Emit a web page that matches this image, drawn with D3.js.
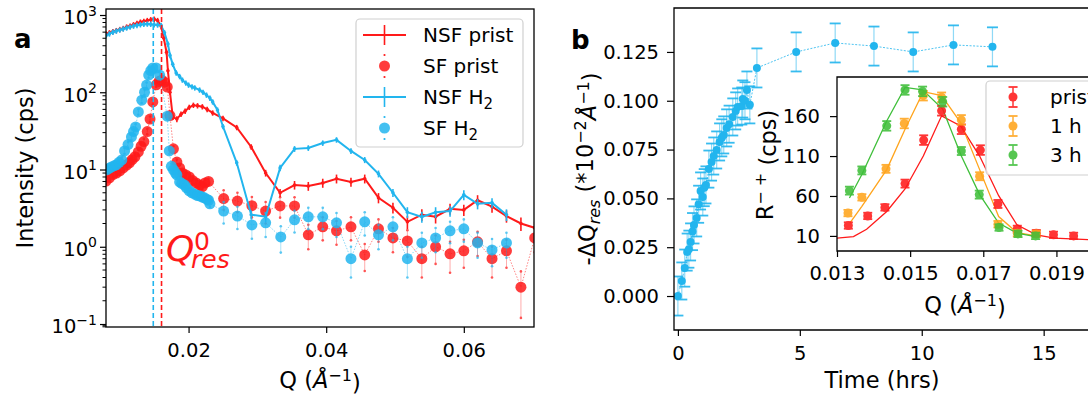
<!DOCTYPE html>
<html>
<head>
<meta charset="utf-8">
<script src="https://cdn.jsdelivr.net/npm/d3@7/dist/d3.min.js"></script>
<style>
body { margin: 0; background: #fff; }
text { font-family: "DejaVu Sans", sans-serif; }
</style>
</head>
<body>
<svg id="chart"></svg>
<script>
var width = 1088, height = 400;
var red = "#ff1a1a", blue = "#22b5ee", orange = "#ffa41c", green = "#3fbf3a";

// ---- panel a : intensity vs Q (log) ----
var nsfPristQ = [0.0080,0.0085,0.0090,0.0095,0.0100,0.0105,0.0110,0.0115,0.0120,0.0125,0.0130,0.0135,0.0140,0.0145,0.0150,0.0155,0.0160,0.0164,0.0168,0.0170,0.0173,0.0177,0.0183,0.0189,0.0195,0.0201,0.0207,0.0213,0.0220,0.0227,0.0235,0.0250,0.0270,0.0291,0.0312,0.0333,0.0354,0.0374,0.0395,0.0415,0.0436,0.0456,0.0476,0.0497,0.0518,0.0539,0.0559,0.0580,0.0600,0.0620,0.0641,0.0662,0.0683,0.0703];
var nsfPristI = [570,590,610,630,650,670,700,720,750,780,810,830,850,870,885,850,720,500,330,190,100,48,45,52,57,64,68,67,65,60,54,46,35,19.6,9.0,5.0,6.3,6.1,6.7,7.6,6.9,7.6,4.3,3.2,2.1,2.6,2.45,3.1,3.0,4.0,3.3,2.5,2.0,1.76];
var nsfPristErr = [45,47,49,50,52,54,56,58,60,62,65,66,68,70,71,68,58,40,26,15,8,4,4,4.2,4.6,5,5.4,5.4,5.2,4.8,4.3,3.7,2.8,1.6,0.9,0.6,0.8,0.8,0.9,1.0,0.9,1.0,0.65,0.5,0.4,0.45,0.45,0.5,0.5,0.65,0.55,0.45,0.4,0.35];

var sfPristQ = [0.0080,0.0085,0.0090,0.0095,0.0100,0.0105,0.0110,0.0114,0.0118,0.0122,0.0127,0.0131,0.0135,0.0140,0.0144,0.0148,0.0153,0.0157,0.0161,0.0165,0.0169,0.0173,0.0178,0.0183,0.0187,0.0191,0.0196,0.0201,0.0206,0.0211,0.0216,0.0220,0.0224,0.0229,0.0251,0.0271,0.0292,0.0312,0.0333,0.0354,0.0374,0.0395,0.0415,0.0436,0.0456,0.0476,0.0497,0.0518,0.0539,0.0559,0.0580,0.0600,0.0620,0.0641,0.0662,0.0683,0.0703];
var sfPristI = [7.1,7.8,8.6,9.0,9.6,10.5,11.4,12.2,13.4,14.6,16.9,20,23,31,45,75,125,138,144,135,117,50,18.5,12.5,10.5,9.0,8.5,8.0,7.2,6.7,6.3,6.0,6.7,7.0,4.2,3.9,3.4,2.9,3.38,3.38,1.43,1.81,1.61,1.81,0.785,1.71,1.30,1.19,0.70,1.0,0.81,0.885,1.16,0.70,0.885,0.30,1.30];
var sfPristErr = [0.6,0.6,0.7,0.7,0.8,0.8,0.9,1.0,1.1,1.2,1.4,1.6,1.9,2.5,3.5,5,8,9,9,9,8,4,1.5,1.0,0.9,0.8,0.7,0.7,0.6,0.6,0.55,0.5,0.55,0.6,1.2,1.1,1.0,0.9,1.0,1.0,0.5,0.6,0.55,0.6,0.3,0.55,0.45,0.45,0.3,0.4,0.35,0.35,0.4,0.3,0.35,0.18,0.45];

var nsfH2Q = [0.0080,0.0085,0.0090,0.0095,0.0100,0.0105,0.0110,0.0115,0.0120,0.0125,0.0130,0.0135,0.0140,0.0145,0.0150,0.0155,0.0160,0.0165,0.0170,0.0173,0.0177,0.0182,0.0187,0.0191,0.0196,0.0200,0.0205,0.0209,0.0216,0.0221,0.0226,0.0231,0.0235,0.0242,0.0250,0.0270,0.0291,0.0312,0.0333,0.0354,0.0374,0.0395,0.0415,0.0436,0.0456,0.0476,0.0497,0.0518,0.0539,0.0559,0.0580,0.0600,0.0620,0.0641,0.0662];
var nsfH2I = [540,570,600,620,640,660,680,700,720,735,750,760,765,760,750,745,735,590,420,300,230,178,160,144,132,124,118,114,107,100,92,84,75,59,36,12.2,2.6,2.45,10.5,18.5,19,22,24.2,17.4,13.3,8.8,5.0,2.8,2.44,2.8,2.9,4.7,3.6,3.7,2.6];
var nsfH2Err = [43,46,48,50,51,53,54,56,58,59,60,61,61,61,60,60,59,47,34,24,18,14,13,11.5,10.5,10,9.4,9.1,8.6,8,7.4,6.7,6,4.7,2.9,1.0,0.35,0.35,1.0,1.6,1.6,1.8,2.0,1.5,1.2,0.9,0.6,0.45,0.4,0.45,0.45,0.7,0.55,0.55,0.45];

var sfH2Q = [0.0081,0.0085,0.0088,0.0092,0.0095,0.0099,0.0103,0.0107,0.0112,0.0117,0.0120,0.0123,0.0127,0.0132,0.0136,0.0139,0.0142,0.0145,0.0148,0.0153,0.0158,0.0169,0.0172,0.0175,0.0178,0.0181,0.0183,0.0187,0.0190,0.0194,0.0197,0.0201,0.0205,0.0209,0.0213,0.0216,0.0220,0.0223,0.0227,0.0229,0.0231,0.0251,0.0271,0.0292,0.0312,0.0334,0.0354,0.0374,0.0395,0.0415,0.0436,0.0456,0.0476,0.0497,0.0518,0.0539,0.0559,0.0580,0.0600,0.0620,0.0641,0.0662];
var sfH2I = [9.9,10.4,10.8,11.2,11.5,12.4,13.3,17.4,21,26.4,31,35.6,55.6,79,100,124,167,190,206,206,167,49,17.4,11,9.9,9.0,8.5,6.9,6.6,6.3,5.8,5.3,5.0,4.8,4.6,4.55,4.4,4.3,4.1,4.0,3.6,2.9,2.5,1.92,2.04,1.34,2.23,2.44,2.44,2.04,0.70,2.1,1.43,1.81,0.70,1.12,1.30,1.61,1.71,1.12,0.91,1.12];
var sfH2Err = [0.8,0.8,0.9,0.9,0.9,1.0,1.1,1.4,1.7,2.1,2.5,2.9,4.5,6.3,8,10,13,15,16,16,13,4,1.4,0.9,0.8,0.7,0.7,0.6,0.55,0.5,0.5,0.45,0.4,0.4,0.4,0.4,0.4,0.35,0.35,0.35,0.32,0.9,0.8,0.65,0.7,0.5,0.7,0.75,0.75,0.7,0.3,0.7,0.5,0.6,0.3,0.4,0.45,0.5,0.55,0.4,0.35,0.4];

var qResH2 = 0.01487, qResPrist = 0.01607;
var legendA = ["NSF prist", "SF prist", "NSF H", "SF H"];

// ---- panel b : shift of Q_res vs time ----
var timeHrs = [0.00,0.16,0.28,0.38,0.45,0.52,0.60,0.66,0.77,0.85,0.93,1.02,1.08,1.15,1.27,1.38,1.47,1.59,1.71,1.80,1.88,2.00,2.10,2.25,2.37,2.45,2.62,2.66,2.75,2.83,2.95,3.24,4.85,6.45,8.04,9.65,11.3,12.9];
var dQres = [0.000,0.0077,0.0143,0.0225,0.024,0.0277,0.033,0.0364,0.040,0.047,0.0538,0.0507,0.0555,0.0569,0.065,0.0686,0.0717,0.0748,0.0789,0.081,0.0825,0.0861,0.088,0.0917,0.0948,0.0968,0.0973,0.1009,0.100,0.1055,0.0979,0.1168,0.125,0.1296,0.128,0.125,0.1286,0.1276];
var dQresErr = [0.010,0.0095,0.0095,0.0095,0.0095,0.0095,0.0095,0.0095,0.0095,0.0095,0.0095,0.0095,0.0095,0.0095,0.0095,0.0095,0.0095,0.0095,0.0095,0.0095,0.0095,0.0095,0.0095,0.0095,0.0095,0.0095,0.0095,0.0095,0.0095,0.0095,0.0095,0.010,0.010,0.010,0.010,0.010,0.010,0.010];
var timeTicks = [0, 5, 10, 15];
var dQTicks = [0, 0.025, 0.05, 0.075, 0.1, 0.125];

// ---- inset : R-+ vs Q ----
var inPristQ = [0.01331,0.01384,0.01431,0.01486,0.01537,0.01586,0.0164,0.01692,0.0174,0.01793,0.01845,0.01892,0.01947];
var inPristR = [23,35,45.7,75.5,130,166.7,143.6,117.5,50,18.8,13.4,11.3,10];
var inPristErr = [4,4,4,5,6,6,6,6,5,4,4,4,4];
var in1hQ = [0.0133,0.01368,0.01434,0.01484,0.01536,0.01586,0.0164,0.0169,0.0174,0.01793,0.01845];
var in1hR = [38.6,58.3,94,150.8,185.6,183.6,155.3,84.7,24.7,13.4,12.5];
var in1hErr = [4,4,5,6,6,6,6,5,4,4,4];
var in3hQ = [0.01334,0.01368,0.01436,0.01486,0.01534,0.01589,0.0164,0.01689,0.01743,0.01795,0.01843];
var in3hR = [66.7,92,147.8,192.8,191,178,116.3,61.7,20.5,12.5,10];
var in3hErr = [5,5,6,6,6,6,5,5,4,4,4];
var fitPristQ = [0.0128,0.0130,0.01345,0.01381,0.01436,0.01486,0.01536,0.01586,0.01638,0.0169,0.01742,0.01792,0.01845,0.01895,0.0200];
var fitPristR = [6.5,7.1,9.2,18.4,40.6,68.8,110,160.4,147.8,110,60.4,23.9,11.3,7.1,5];
var fit1hQ = [0.01335,0.01368,0.01436,0.01486,0.01536,0.01586,0.01638,0.0169,0.01742,0.01792,0.01845];
var fit1hR = [26,47,93,143.6,190.6,185.6,152,93,34.3,14.2,10];
var fit3hQ = [0.01334,0.01368,0.01436,0.01486,0.01534,0.01589,0.0164,0.0169,0.01742,0.01792,0.01843];
var fit3hR = [57.5,86.9,154,196,193,168.8,110,61.7,26,13.4,9.1];
var inQTicks = [0.013, 0.015, 0.017, 0.019];
var inRTicks = [10, 60, 110, 160];
var legendInset = ["pristine", "1 h", "3 h"];

var svg = d3.select("#chart")
	.attr("width", width)
	.attr("height", height);

function zip(q, v, e) {
	return q.map(function (d, i) { return {q: d, v: v[i], e: e ? e[i] : 0}; });
}

function tidyAxis(g, fs) {
	g.select(".domain").remove();
	g.selectAll(".tick line").attr("stroke", "#000").attr("stroke-width", 1.2);
	g.selectAll(".tick text").attr("font-size", fs || "19.5px").attr("fill", "#000")
		.style("font-family", "DejaVu Sans");
}

// ================= panel a =================
var xA = d3.scaleLinear().domain([0.008, 0.0702]).range([106, 534]);
var yA = d3.scaleLog().domain([0.0915, 1196]).range([327, 9]);

svg.append("clipPath").attr("id", "clipA").append("rect")
	.attr("x", 106).attr("y", 9).attr("width", 428).attr("height", 318);
var gA = svg.append("g").attr("clip-path", "url(#clipA)");

function logY(v) { return yA(Math.max(v, 0.01)); }

function drawNSF(data, color) {
	gA.append("path").datum(data)
		.attr("fill", "none").attr("stroke", color).attr("stroke-width", 2)
		.attr("d", d3.line().x(d => xA(d.q)).y(d => yA(d.v)));
	gA.selectAll(null).data(data).enter().append("line")
		.attr("x1", d => xA(d.q)).attr("x2", d => xA(d.q))
		.attr("y1", d => logY(d.v + d.e)).attr("y2", d => logY(d.v - d.e))
		.attr("stroke", color).attr("stroke-width", 1.6);
	gA.selectAll(null).data(data).enter().append("circle")
		.attr("cx", d => xA(d.q)).attr("cy", d => yA(d.v)).attr("r", 1.8)
		.attr("fill", color);
}

function drawSF(data, color) {
	gA.append("path").datum(data)
		.attr("fill", "none").attr("stroke", color).attr("stroke-width", 0.9)
		.attr("stroke-dasharray", "1.5,1.5").attr("opacity", 0.6)
		.attr("d", d3.line().x(d => xA(d.q)).y(d => yA(d.v)));
	var eb = gA.selectAll(null).data(data).enter().append("g").attr("opacity", 0.75);
	eb.append("line")
		.attr("x1", d => xA(d.q)).attr("x2", d => xA(d.q))
		.attr("y1", d => logY(d.v + d.e)).attr("y2", d => logY(d.v - d.e))
		.attr("stroke", color).attr("stroke-width", 0.8).attr("opacity", 0.6);
	eb.append("circle").attr("cx", d => xA(d.q)).attr("cy", d => logY(d.v + d.e)).attr("r", 1.3).attr("fill", color);
	eb.append("circle").attr("cx", d => xA(d.q)).attr("cy", d => logY(d.v - d.e)).attr("r", 1.3).attr("fill", color);
	gA.selectAll(null).data(data).enter().append("circle")
		.attr("cx", d => xA(d.q)).attr("cy", d => yA(d.v)).attr("r", 5.5)
		.attr("fill", color).attr("opacity", 0.85);
}

drawNSF(zip(nsfPristQ, nsfPristI, nsfPristErr), red);
drawSF(zip(sfPristQ, sfPristI, sfPristErr), red);
drawNSF(zip(nsfH2Q, nsfH2I, nsfH2Err), blue);
drawSF(zip(sfH2Q, sfH2I, sfH2Err), blue);

// dashed resonance lines
[[qResH2, blue], [qResPrist, red]].forEach(function (p) {
	gA.append("line").attr("x1", xA(p[0])).attr("x2", xA(p[0]))
		.attr("y1", 9).attr("y2", 327)
		.attr("stroke", p[1]).attr("stroke-width", 1.6).attr("stroke-dasharray", "5,3");
});

// Q_res^0 label, one text element with stacked sub/superscript
var qres = svg.append("text").attr("fill", red);
qres.append("tspan").attr("x", 166).attr("y", 261).attr("font-size", "36px").attr("font-style", "italic").text("Q");
qres.append("tspan").attr("x", 191).attr("y", 268).attr("font-size", "25px").attr("font-style", "italic").text("res");
qres.append("tspan").attr("x", 194).attr("y", 250).attr("font-size", "25px").text("0");

// axes a
var axA_x = svg.append("g").attr("transform", "translate(0,327)")
	.call(d3.axisBottom(xA).tickValues([0.02, 0.04, 0.06]).tickSize(6).tickPadding(10.5).tickFormat(d3.format(".2f")));
tidyAxis(axA_x);

var minorA = [];
[0.1, 1, 10, 100].forEach(function (dec) {
	for (var k = 2; k <= 9; k++) minorA.push(dec * k);
});
minorA.push(0.092, 0.095);
svg.append("g").selectAll("line").data(minorA.filter(v => v >= 0.0915 && v <= 1196)).enter().append("line")
	.attr("x1", 106).attr("x2", 102.5).attr("y1", d => yA(d)).attr("y2", d => yA(d))
	.attr("stroke", "#000").attr("stroke-width", 1);

var axA_y = svg.append("g").attr("transform", "translate(106,0)")
	.call(d3.axisLeft(yA).tickValues([0.1, 1, 10, 100, 1000]).tickSize(6).tickPadding(3).tickFormat(""));
tidyAxis(axA_y);
axA_y.selectAll(".tick text").each(function (d) {
	var t = d3.select(this);
	var ex = Math.round(Math.log10(d));
	t.text(null).attr("dy", "0.45em");
	t.append("tspan").text("10");
	t.append("tspan").attr("dy", "-0.62em").attr("font-size", "14px").text(ex < 0 ? "\u2212" + (-ex) : ex);
});

svg.append("rect").attr("x", 106).attr("y", 9).attr("width", 428).attr("height", 318)
	.attr("fill", "none").attr("stroke", "#000").attr("stroke-width", 1.3);

// labels a
svg.append("text").attr("x", 14).attr("y", 48).attr("font-size", "26px").attr("font-weight", "bold").text("a");
svg.append("text").attr("transform", "translate(33,168) rotate(-90)").attr("text-anchor", "middle")
	.attr("font-size", "22.5px").text("Intensity (cps)");
var xlabA = svg.append("text").attr("x", 320).attr("y", 388).attr("text-anchor", "middle").attr("font-size", "22.5px");
xlabA.append("tspan").text("Q (");
xlabA.append("tspan").attr("font-style", "italic").text("\u00C5");
xlabA.append("tspan").attr("dy", "-0.45em").attr("font-size", "16px").text("\u22121");
xlabA.append("tspan").attr("dy", "0.45em").text(")");

// legend a
var legA = svg.append("g");
legA.append("rect").attr("x", 356).attr("y", 19).attr("width", 167).attr("height", 128).attr("rx", 4)
	.attr("fill", "#fff").attr("fill-opacity", 0.85).attr("stroke", "#d0d0d0").attr("stroke-width", 1.2);
var legColors = [red, red, blue, blue];
legendA.forEach(function (name, i) {
	var cy = 35 + i * 31;
	var c = legColors[i];
	if (i % 2 === 0) {
		legA.append("line").attr("x1", 363).attr("x2", 406).attr("y1", cy).attr("y2", cy).attr("stroke", c).attr("stroke-width", 2);
		legA.append("line").attr("x1", 384.5).attr("x2", 384.5).attr("y1", cy - 10).attr("y2", cy + 10).attr("stroke", c).attr("stroke-width", 1.6);
	} else {
		legA.append("circle").attr("cx", 384.5).attr("cy", cy).attr("r", 5.5).attr("fill", c).attr("opacity", 0.85);
		legA.append("circle").attr("cx", 384.5).attr("cy", cy - 11).attr("r", 1.1).attr("fill", c);
		legA.append("circle").attr("cx", 384.5).attr("cy", cy + 11).attr("r", 1.1).attr("fill", c);
	}
	var t = legA.append("text").attr("x", 423).attr("y", cy + 7).attr("font-size", "20px").text(name);
	if (i >= 2) t.append("tspan").attr("dy", "0.3em").attr("font-size", "15px").text("2");
});

// ================= panel b =================
var xB = d3.scaleLinear().domain([-0.16, 16.9]).range([674, 1090]);
var yB = d3.scaleLinear().domain([-0.0174, 0.1475]).range([330, 8]);

svg.append("clipPath").attr("id", "clipB").append("rect")
	.attr("x", 674).attr("y", 8).attr("width", 416).attr("height", 322);
var gB = svg.append("g").attr("clip-path", "url(#clipB)");
var dataB = timeHrs.map((t, i) => ({t: t, v: dQres[i], e: dQresErr[i]}));

gB.append("path").datum(dataB).attr("fill", "none").attr("stroke", blue).attr("stroke-width", 1)
	.attr("stroke-dasharray", "2,1.5").attr("opacity", 0.8)
	.attr("d", d3.line().x(d => xB(d.t)).y(d => yB(d.v)));
var ebB = gB.selectAll(null).data(dataB).enter().append("g");
ebB.append("line").attr("x1", d => xB(d.t)).attr("x2", d => xB(d.t))
	.attr("y1", d => yB(d.v + d.e)).attr("y2", d => yB(d.v - d.e))
	.attr("stroke", blue).attr("stroke-width", 1.2).attr("opacity", 0.5);
[1, -1].forEach(function (s) {
	ebB.append("line").attr("x1", d => xB(d.t) - 5.5).attr("x2", d => xB(d.t) + 5.5)
		.attr("y1", d => yB(d.v + s * d.e)).attr("y2", d => yB(d.v + s * d.e))
		.attr("stroke", blue).attr("stroke-width", 1.8).attr("opacity", 0.9);
});
gB.selectAll(null).data(dataB).enter().append("circle")
	.attr("cx", d => xB(d.t)).attr("cy", d => yB(d.v)).attr("r", 4).attr("fill", blue);

var axB_x = svg.append("g").attr("transform", "translate(0,330)")
	.call(d3.axisBottom(xB).tickValues(timeTicks).tickSize(6).tickPadding(10).tickFormat(d3.format("d")));
tidyAxis(axB_x);
var axB_y = svg.append("g").attr("transform", "translate(674,0)")
	.call(d3.axisLeft(yB).tickValues(dQTicks).tickSize(7).tickPadding(8).tickFormat(d3.format(".3f")));
tidyAxis(axB_y);

svg.append("path").attr("d", "M1090,8H674V330H1090").attr("fill", "none").attr("stroke", "#000").attr("stroke-width", 1.3);

svg.append("text").attr("x", 571).attr("y", 49).attr("font-size", "26px").attr("font-weight", "bold").text("b");
svg.append("text").attr("x", 882).attr("y", 388).attr("text-anchor", "middle").attr("font-size", "22.5px").text("Time (hrs)");
var ylabB = svg.append("text").attr("transform", "translate(595,169) rotate(-90)").attr("text-anchor", "middle").attr("font-size", "22.5px");
ylabB.append("tspan").text("-\u0394Q");
ylabB.append("tspan").attr("dy", "0.3em").attr("font-size", "16px").attr("font-style", "italic").text("res");
ylabB.append("tspan").attr("dy", "-0.3em").text(" (*10");
ylabB.append("tspan").attr("dy", "-0.45em").attr("font-size", "16px").text("\u22122");
ylabB.append("tspan").attr("dy", "0.45em").attr("font-style", "italic").text("\u00C5");
ylabB.append("tspan").attr("dy", "-0.45em").attr("font-size", "16px").text("\u22121");
ylabB.append("tspan").attr("dy", "0.45em").text(")");

// ================= inset =================
var xI = d3.scaleLinear().domain([0.013, 0.020]).range([837, 1093]);
var yI = d3.scaleLinear().domain([-8.9, 209]).range([251, 77]);

svg.append("rect").attr("x", 837).attr("y", 77).attr("width", 260).attr("height", 174).attr("fill", "#fff");
svg.append("clipPath").attr("id", "clipI").append("rect")
	.attr("x", 837).attr("y", 77).attr("width", 256).attr("height", 174);
var gI = svg.append("g").attr("clip-path", "url(#clipI)");

var fits = [[fitPristQ, fitPristR, red], [fit1hQ, fit1hR, orange], [fit3hQ, fit3hR, green]];
fits.forEach(function (f) {
	gI.append("path").datum(zip(f[0], f[1])).attr("fill", "none").attr("stroke", f[2]).attr("stroke-width", 1.3)
		.attr("d", d3.line().x(d => xI(d.q)).y(d => yI(d.v)));
});
var pts = [[inPristQ, inPristR, inPristErr, red], [in1hQ, in1hR, in1hErr, orange], [in3hQ, in3hR, in3hErr, green]];
pts.forEach(function (s) {
	var data = zip(s[0], s[1], s[2]);
	var g = gI.selectAll(null).data(data).enter().append("g").attr("opacity", 0.88);
	g.append("line").attr("x1", d => xI(d.q)).attr("x2", d => xI(d.q))
		.attr("y1", d => yI(d.v + d.e)).attr("y2", d => yI(d.v - d.e)).attr("stroke", s[3]).attr("stroke-width", 1.5);
	[1, -1].forEach(function (k) {
		g.append("line").attr("x1", d => xI(d.q) - 4.5).attr("x2", d => xI(d.q) + 4.5)
			.attr("y1", d => yI(d.v + k * d.e)).attr("y2", d => yI(d.v + k * d.e)).attr("stroke", s[3]).attr("stroke-width", 1.8);
	});
	g.append("circle").attr("cx", d => xI(d.q)).attr("cy", d => yI(d.v)).attr("r", 4.5).attr("fill", s[3]);
});

var axI_x = svg.append("g").attr("transform", "translate(0,251)")
	.call(d3.axisBottom(xI).tickValues(inQTicks).tickSize(6).tickPadding(9).tickFormat(d3.format(".3f")));
tidyAxis(axI_x);
var axI_y = svg.append("g").attr("transform", "translate(837,0)")
	.call(d3.axisLeft(yI).tickValues(inRTicks).tickSize(7).tickPadding(10).tickFormat(d3.format("d")));
tidyAxis(axI_y);
svg.append("path").attr("d", "M1097,77H837V251H1097").attr("fill", "none").attr("stroke", "#000").attr("stroke-width", 1.3);

var xlabI = svg.append("text").attr("x", 965).attr("y", 313).attr("text-anchor", "middle").attr("font-size", "22.5px");
xlabI.append("tspan").text("Q (");
xlabI.append("tspan").attr("font-style", "italic").text("\u00C5");
xlabI.append("tspan").attr("dy", "-0.45em").attr("font-size", "16px").text("\u22121");
xlabI.append("tspan").attr("dy", "0.45em").text(")");
var ylabI = svg.append("text").attr("transform", "translate(773,165) rotate(-90)").attr("text-anchor", "middle").attr("font-size", "22.5px");
ylabI.append("tspan").text("R");
ylabI.append("tspan").attr("dy", "-0.45em").attr("font-size", "16px").text("\u2212 +");
ylabI.append("tspan").attr("dy", "0.45em").text(" (cps)");

// inset legend (cut by the right edge, as in the source figure)
var legI = svg.append("g");
legI.append("rect").attr("x", 986).attr("y", 81).attr("width", 120).attr("height", 94).attr("rx", 4)
	.attr("fill", "#fff").attr("fill-opacity", 0.85).attr("stroke", "#d0d0d0").attr("stroke-width", 1.2);
[red, orange, green].forEach(function (c, i) {
	var cy = 97 + i * 29;
	var g = legI.append("g").attr("opacity", 0.88);
	g.append("line").attr("x1", 1013).attr("x2", 1013).attr("y1", cy - 10).attr("y2", cy + 10).attr("stroke", c).attr("stroke-width", 1.5);
	[-10, 10].forEach(function (o) {
		g.append("line").attr("x1", 1008.5).attr("x2", 1017.5).attr("y1", cy + o).attr("y2", cy + o).attr("stroke", c).attr("stroke-width", 1.8);
	});
	g.append("circle").attr("cx", 1013).attr("cy", cy).attr("r", 4.5).attr("fill", c);
	legI.append("text").attr("x", 1050).attr("y", cy + 7).attr("font-size", "20px").text(legendInset[i]);
});
</script>
</body>
</html>
